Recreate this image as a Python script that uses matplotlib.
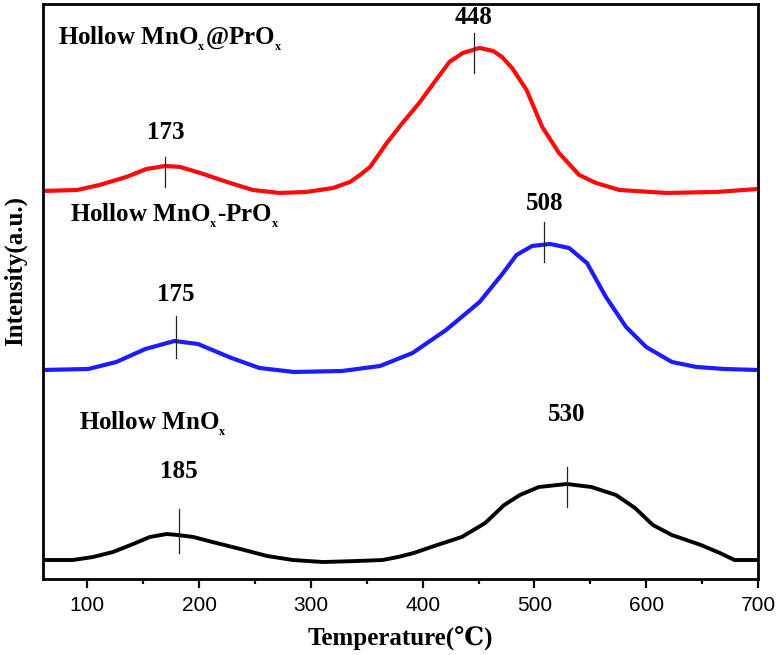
import matplotlib
matplotlib.use('Agg')
import matplotlib.pyplot as plt

plt.rcParams['mathtext.fontset'] = 'custom'
plt.rcParams['mathtext.rm'] = 'Liberation Serif:bold'
plt.rcParams['mathtext.bf'] = 'Liberation Serif:bold'
plt.rcParams['mathtext.it'] = 'Liberation Serif:bold'

# H2-TPR profiles (intensity in arbitrary units, stacked)
temp_mnox = [60, 87, 105, 123, 141, 156, 171, 181, 195, 212, 237, 261, 284, 311, 341, 364, 378,
             392, 413, 435, 456, 473, 487, 504, 529, 551, 573, 590, 606, 623, 649, 666, 679, 700]
int_mnox = [1.9, 1.9, 2.2, 2.7, 3.5, 4.2, 4.5, 4.4, 4.2, 3.7, 3.0, 2.3, 1.9, 1.7, 1.8, 1.9, 2.2,
            2.6, 3.4, 4.2, 5.6, 7.4, 8.4, 9.2, 9.5, 9.2, 8.4, 7.1, 5.4, 4.4, 3.4, 2.6, 1.9, 1.9]

temp_mix = [60, 101, 126, 152, 178, 199, 229, 254, 285, 328, 362, 391, 421, 451, 472, 484,
            498, 514, 531, 547, 564, 582, 600, 623, 645, 670, 700]
int_mix = [20.9, 21.0, 21.7, 23.0, 23.8, 23.5, 22.1, 21.1, 20.7, 20.8, 21.3, 22.6, 24.9, 27.7, 30.6, 32.4,
           33.3, 33.5, 33.1, 31.6, 28.2, 25.2, 23.2, 21.7, 21.2, 21.0, 20.9]

temp_core = [60, 91, 111, 135, 153, 170, 183, 201, 225, 248, 272, 296, 320, 335, 344, 353, 368, 382,
             397, 412, 424, 436, 451, 463, 471, 480, 493, 507, 522, 540, 555, 576, 618, 663, 700]
int_core = [38.8, 38.9, 39.4, 40.2, 41.0, 41.3, 41.2, 40.6, 39.7, 38.9, 38.6, 38.7, 39.1, 39.7, 40.4, 41.2, 43.6, 45.6,
            47.6, 49.9, 51.7, 52.6, 53.1, 52.8, 52.2, 51.1, 48.9, 45.2, 42.6, 40.4, 39.6, 38.9, 38.6, 38.7, 39.0]

sub_x = r'$_{_\mathrm{x}}$'
sample_names = ['Hollow MnO' + sub_x + '@PrO' + sub_x,
                'Hollow MnO' + sub_x + '-PrO' + sub_x,
                'Hollow MnO' + sub_x]

# peak labels: text, marker position, marker span, label baseline
peak_text = ['173', '448', '175', '508', '185', '530']
peak_temp = [170, 446, 179, 509, 182, 529]
peak_lo = [39.2, 50.6, 22.1, 31.7, 2.6, 7.2]
peak_hi = [42.2, 54.6, 26.3, 35.7, 7.0, 11.2]
peak_lbl_y = [43.6, 55.1, 27.4, 36.5, 9.7, 15.4]

fig = plt.figure(figsize=(7.79, 6.55), dpi=100)
ax = fig.add_axes([0.0546, 0.116, 0.9184, 0.878])

ax.plot(temp_core, int_core, color='#ff0a0a', lw=3.0, solid_joinstyle='round')
ax.plot(temp_mix, int_mix, color='#1c1cff', lw=3.0, solid_joinstyle='round')
ax.plot(temp_mnox, int_mnox, color='black', lw=2.8, solid_joinstyle='round')

serif = dict(family=['Liberation Serif', 'DejaVu Serif'], weight='bold', fontsize=18)

for t, lo, hi, txt, ly in zip(peak_temp, peak_lo, peak_hi, peak_text, peak_lbl_y):
    ax.plot([t, t], [lo, hi], color='#222222', lw=0.9)
    ax.text(t, ly + 0.4, txt, ha='center', va='baseline', **serif)

ax.text(74, 53.4, sample_names[0], ha='left', va='baseline', **serif)
ax.text(85, 35.7, sample_names[1], ha='left', va='baseline', **serif)
ax.text(93, 14.9, sample_names[2], ha='left', va='baseline', **serif)

ax.set_xlim(60, 700)
ax.set_ylim(0, 57.5)
ax.set_xticks([100, 200, 300, 400, 500, 600, 700])
ax.set_xticks([150, 250, 350, 450, 550, 650], minor=True)
ax.set_yticks([])
ax.tick_params(axis='x', which='major', direction='out', length=6.5, width=1.6, pad=6,
               labelsize=15)
ax.tick_params(axis='x', which='minor', direction='out', length=3.5, width=1.6)
for lbl in ax.get_xticklabels():
    lbl.set_family('Liberation Sans')
for sp in ax.spines.values():
    sp.set_linewidth(2.0)

ax.set_xlabel('Temperature(℃)', labelpad=8, **serif)
ax.set_ylabel('Intensity(a.u.)', va='center', **serif)
ax.yaxis.set_label_coords(-0.038, 0.536)

fig.savefig('out.png', dpi=100)
